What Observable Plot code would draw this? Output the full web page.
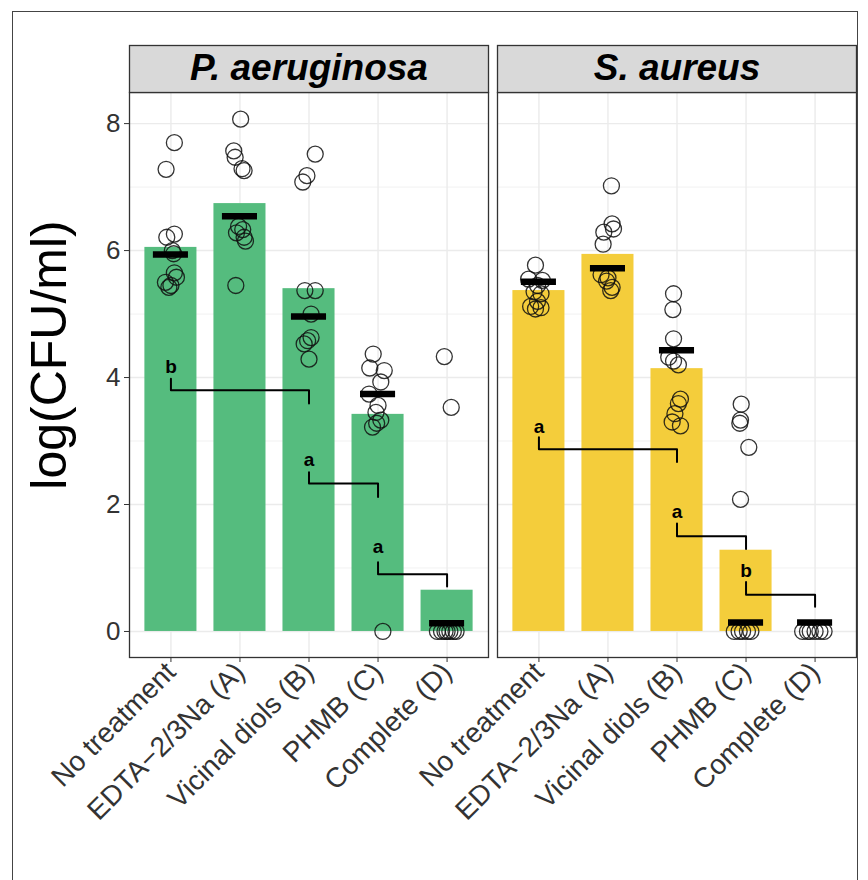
<!DOCTYPE html>
<html><head><meta charset="utf-8">
<script src="https://cdn.jsdelivr.net/npm/d3@7"></script>
<script src="https://cdn.jsdelivr.net/npm/@observablehq/plot@0.6"></script>
<style>
body{margin:0;background:#fff;font-family:"Liberation Sans",Arial,sans-serif;}
#chart{position:absolute;left:0;top:0;}
#frame{position:absolute;left:12px;top:11px;width:846px;height:900px;border:1px solid #444;box-sizing:border-box;pointer-events:none;}
</style></head><body>
<div id="chart"></div><div id="frame"></div>
<script>
const species = ["P. aeruginosa", "S. aureus"];
const categories = ["No treatment", "EDTA\u22122/3Na (A)", "Vicinal diols (B)", "PHMB (C)", "Complete (D)"];
const yTicks = [0, 2, 4, 6, 8];
const yMinor = [1, 3, 5, 7];

// bar heights
const barP = [6.05, 6.74, 5.40, 3.42, 0.65];
const barS = [5.37, 5.94, 4.14, 1.28, 0];
// crossbar (mean) levels
const meanP = [5.94, 6.54, 4.96, 3.74, 0.13];
const meanS = [5.51, 5.72, 4.43, 0.14, 0.14];

// individual observations, per category
const ptsP = [
  [7.70, 7.28, 6.26, 6.21, 6.00, 5.95, 5.65, 5.58, 5.50, 5.45, 5.42],
  [8.07, 7.57, 7.47, 7.29, 7.26, 6.38, 6.33, 6.28, 6.21, 6.15, 5.45],
  [7.52, 7.18, 7.08, 5.37, 5.37, 5.00, 4.63, 4.58, 4.53, 4.29],
  [4.37, 4.15, 4.11, 3.93, 3.74, 3.56, 3.45, 3.33, 3.28, 3.22, 0],
  [4.33, 3.53, 0, 0, 0, 0, 0, 0, 0]
];
// horizontal jitter (in category units)
const jitP = [
  [0.05, -0.07, 0.05, -0.06, 0.02, 0.04, 0.05, 0.08, -0.08, 0.0, -0.03],
  [0.01, -0.09, -0.07, 0.03, 0.06, -0.02, 0.04, -0.05, 0.06, 0.08, -0.06],
  [0.09, -0.03, -0.09, -0.06, 0.09, 0.03, 0.03, -0.02, -0.07, 0.0],
  [-0.07, -0.12, 0.09, 0.04, -0.13, 0.0, -0.03, 0.04, -0.02, -0.08, 0.07],
  [-0.04, 0.06, -0.14, -0.08, -0.03, 0.0, 0.04, 0.09, 0.13]
];
const ptsS = [
  [5.77, 5.55, 5.53, 5.45, 5.35, 5.32, 5.20, 5.12, 5.10, 5.08],
  [7.02, 6.42, 6.34, 6.29, 6.10, 5.62, 5.57, 5.52, 5.42, 5.37],
  [5.32, 5.07, 4.61, 4.32, 4.26, 4.20, 3.66, 3.59, 3.43, 3.30, 3.24],
  [3.58, 3.33, 3.28, 2.90, 2.08, 0, 0, 0, 0, 0],
  [0, 0, 0, 0, 0, 0]
];
const jitS = [
  [-0.05, -0.15, 0.05, -0.02, -0.07, 0.03, -0.02, -0.12, 0.03, -0.05],
  [0.05, 0.06, 0.08, -0.06, -0.07, -0.10, 0.0, -0.02, 0.06, 0.04],
  [-0.05, -0.06, -0.05, -0.12, -0.05, 0.02, 0.05, 0.02, -0.03, -0.07, 0.05],
  [-0.07, -0.08, -0.09, 0.04, -0.08, -0.17, -0.10, -0.05, 0.02, 0.07],
  [-0.18, -0.11, -0.07, 0.0, 0.07, 0.13]
];

// significance brackets: from/to category index, left tick top, bar level, right tick bottom
const bracketsP = [
  {from: 0, to: 2, top: 3.98, mid: 3.80, bot: 3.59, label: "b", ly: 4.17},
  {from: 2, to: 3, top: 2.51, mid: 2.33, bot: 2.12, label: "a", ly: 2.70},
  {from: 3, to: 4, top: 1.09, mid: 0.90, bot: 0.71, label: "a", ly: 1.33}
];
const bracketsS = [
  {from: 0, to: 2, top: 3.06, mid: 2.87, bot: 2.67, label: "a", ly: 3.22},
  {from: 2, to: 3, top: 1.70, mid: 1.50, bot: 1.30, label: "a", ly: 1.88},
  {from: 3, to: 4, top: 0.78, mid: 0.58, bot: 0.39, label: "b", ly: 0.96}
];

// build tables
const bars = [
  ...barP.map((v, i) => ({sp: species[0], i, v})),
  ...barS.map((v, i) => ({sp: species[1], i, v}))
];
const means = [
  ...meanP.map((v, i) => ({sp: species[0], i, v})),
  ...meanS.map((v, i) => ({sp: species[1], i, v}))
];
const points = [];
ptsP.forEach((arr, i) => arr.forEach((v, k) => points.push({sp: species[0], i, v, j: jitP[i][k]})));
ptsS.forEach((arr, i) => arr.forEach((v, k) => points.push({sp: species[1], i, v, j: jitS[i][k]})));
const brackets = [
  ...bracketsP.map(b => ({...b, sp: species[0]})),
  ...bracketsS.map(b => ({...b, sp: species[1]}))
];
const bracketPts = brackets.flatMap((b, id) => [
  {sp: b.sp, id, x: b.from, y: b.top},
  {sp: b.sp, id, x: b.from, y: b.mid},
  {sp: b.sp, id, x: b.to, y: b.mid},
  {sp: b.sp, id, x: b.to, y: b.bot}
]);

const font = "Liberation Sans, Arial, Helvetica, sans-serif";

const plot = Plot.plot({
  width: 868,
  height: 830,
  marginLeft: 129,
  marginRight: 12,
  marginTop: 92,
  marginBottom: 173,
  style: {fontFamily: font, background: "transparent", overflow: "visible"},
  fx: {domain: species, padding: 0.0245, axis: null},
  x: {domain: [-0.6, 4.6]},
  y: {domain: [-0.41, 8.49]},
  color: {domain: species, range: ["#55bc7e", "#f4cd3b"]},
  marks: [
    Plot.gridY(yMinor, {stroke: "#ebebeb", strokeOpacity: 1, strokeWidth: 0.7}),
    Plot.gridY(yTicks, {stroke: "#ebebeb", strokeOpacity: 1, strokeWidth: 1.4}),
    Plot.gridX([0, 1, 2, 3, 4], {stroke: "#ebebeb", strokeOpacity: 1, strokeWidth: 1.4}),
    Plot.rectY(bars, {fx: "sp", x1: d => d.i - 0.377, x2: d => d.i + 0.377, y1: 0, y2: "v", fill: "sp"}),
    Plot.dot(points, {fx: "sp", x: d => d.i + d.j, y: "v", r: 8, stroke: "#111", strokeWidth: 1.3, strokeOpacity: 0.85, fill: "none"}),
    Plot.ruleY(means, {fx: "sp", y: "v", x1: d => d.i - 0.254, x2: d => d.i + 0.254, stroke: "black", strokeWidth: 6.5}),
    Plot.line(bracketPts, {fx: "sp", x: "x", y: "y", z: "id", stroke: "black", strokeWidth: 2}),
    Plot.text(brackets, {fx: "sp", x: "from", y: "ly", text: "label", fontSize: 19, fontWeight: "bold", fill: "black"}),
    Plot.frame({stroke: "#333", strokeWidth: 1.3}),
    Plot.frame({fill: "#d9d9d9", stroke: "#333", strokeWidth: 1.3, insetTop: -47, insetBottom: 565}),
    Plot.text(species, {fx: d => d, text: d => d, frameAnchor: "top", lineAnchor: "middle", dy: -24, fontSize: 37, fontStyle: "italic", fontWeight: "bold", fill: "black"}),
    Plot.axisY({ticks: yTicks, tickSize: 5, tickPadding: 4, fontSize: 26, label: null, color: "#333"}),
    Plot.text([species[0]], {fx: d => d, text: () => "log(CFU/ml)", frameAnchor: "left", textAnchor: "middle", rotate: -90, dx: -80, dy: -20, fontSize: 50, fill: "black"}),
    Plot.axisX({ticks: [0, 1, 2, 3, 4], tickFormat: i => categories[i], tickRotate: -45, tickSize: 5, tickPadding: 5, fontSize: 28, label: null, color: "#333"})
  ]
});
document.getElementById("chart").appendChild(plot);
</script>
</body></html>
